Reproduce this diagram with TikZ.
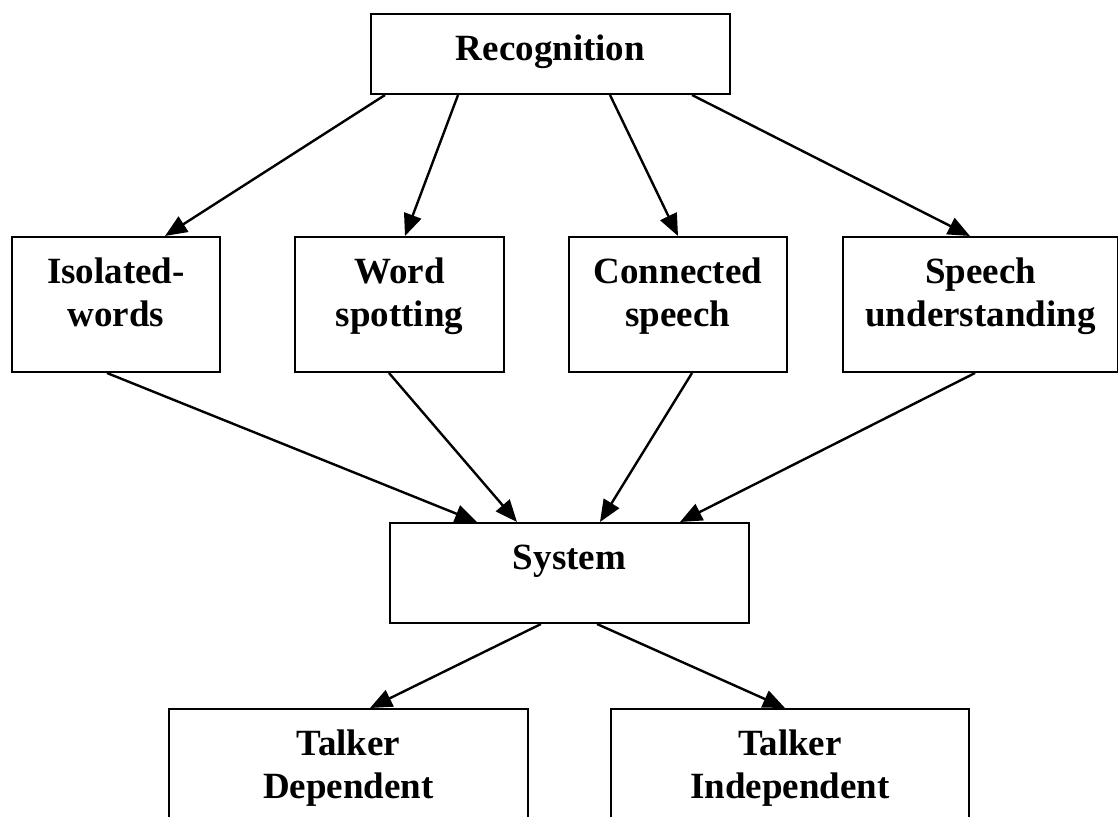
\documentclass[tikz,border=0pt]{standalone}
\usepackage{fontspec}
\setmainfont{Liberation Serif}
\usetikzlibrary{arrows.meta, positioning, calc}

\begin{document}
\begin{tikzpicture}[
		x=1pt, y=-1pt,
		box/.style={draw, rectangle, line width=2pt, anchor=north west, align=center, inner sep=0pt, font=\bfseries\fontsize{37}{43}\selectfont, text height=46pt},
		twoline/.style={text height=89pt, text depth=46pt},
		arr/.style={-{Triangle[length=22pt,width=18pt]}, line width=2.4pt}
		]
		\useasboundingbox (0,0) rectangle (1118,816);
		\node[box, minimum width=359pt, text depth=34pt] (rec) at (370,13) {Recognition};
		\node[box, twoline, minimum width=208pt] (iso) at (11,236) {Isolated-\\words};
		\node[box, twoline, minimum width=209pt] (word) at (294,236) {Word\\spotting};
		\node[box, twoline, minimum width=218pt] (conn) at (568,236) {Connected\\speech};
		\node[box, twoline, minimum width=275pt] (speech) at (842,236) {Speech\\understanding};
		\node[box, minimum width=359pt, text depth=54pt] (sys) at (389,522) {System};
		\node[box, twoline, minimum width=359pt] (dep) at (168,708) {Talker\\Dependent};
		\node[box, twoline, minimum width=358pt] (indep) at (610,708) {Talker\\Independent};
		% recognition to the four kinds
		\draw[arr] ([xshift=15pt]rec.south west) -- ([xshift=154pt]iso.north west);
		\draw[arr] ([xshift=88pt]rec.south west) -- ([xshift=111pt]word.north west);
		\draw[arr] ([xshift=240pt]rec.south west) -- ([xshift=110pt]conn.north west);
		\draw[arr] ([xshift=322pt]rec.south west) -- ([xshift=128pt]speech.north west);
		% kinds to system
		\draw[arr] ([xshift=96pt]iso.south west) -- ([xshift=88pt]sys.north west);
		\draw[arr] ([xshift=95pt]word.south west) -- ([xshift=128pt]sys.north west);
		\draw[arr] ([xshift=124pt]conn.south west) -- ([xshift=211pt]sys.north west);
		\draw[arr] ([xshift=133pt]speech.south west) -- ([xshift=291pt]sys.north west);
		% system to talkers
		\draw[arr] ([xshift=152pt]sys.south west) -- ([xshift=202pt]dep.north west);
		\draw[arr] ([xshift=208pt]sys.south west) -- ([xshift=175pt]indep.north west);
\end{tikzpicture}
\end{document}
